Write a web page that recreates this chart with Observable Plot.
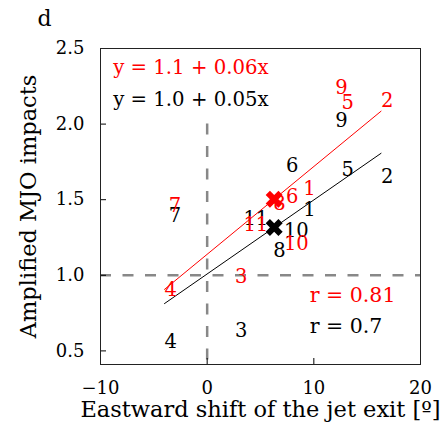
<!DOCTYPE html>
<html>
<head>
<meta charset="utf-8">
<script src="https://cdn.jsdelivr.net/npm/d3@7"></script>
<script src="https://cdn.jsdelivr.net/npm/@observablehq/plot@0.6"></script>
<style>
  body { margin: 0; background: #fff; }
</style>
</head>
<body>
<div id="chart"></div>
<script>
// Ensemble members, labelled by number
const members = ["1", "2", "3", "4", "5", "6", "7", "8", "9", "10", "11"];
// Eastward shift of the jet exit (degrees)
const jetShift = [9.0, 16.3, 2.6, -4.0, 12.6, 7.4, -3.6, 6.2, 12.0, 7.2, 3.4];
// Amplified MJO impacts, two measures
const impactRed = [1.53, 2.11, 0.95, 0.86, 2.10, 1.48, 1.42, 1.43, 2.20, 1.17, 1.29];
const impactBlack = [1.39, 1.61, 0.59, 0.52, 1.66, 1.68, 1.35, 1.12, 1.98, 1.25, 1.33];
const seriesColor = ["#ff0000", "#000000"];

// Axis ticks
const xTicks = [-10, 0, 10, 20];
const yTicks = [0.5, 1.0, 1.5, 2.0, 2.5];
const xDomain = [-10, 20];
const yDomain = [0.41, 2.5];

// Reference lines: zero shift (drawn up to 2.0) and unit impact
const zeroShift = 0;
const zeroShiftTop = 2.0;
const unitImpact = 1.0;

const points = members.map((m, i) => ({
  member: m, x: jetShift[i], red: impactRed[i], black: impactBlack[i]
}));

// Least-squares fit and Pearson correlation of each series against the shift
function fit(xs, ys) {
  const mx = d3.mean(xs), my = d3.mean(ys);
  let sxy = 0, sxx = 0, syy = 0;
  xs.forEach((x, i) => {
    sxy += (x - mx) * (ys[i] - my);
    sxx += (x - mx) ** 2;
    syy += (ys[i] - my) ** 2;
  });
  const slope = sxy / sxx;
  return {mx, my, slope, intercept: my - slope * mx, r: sxy / Math.sqrt(sxx * syy)};
}
const fits = [fit(jetShift, impactRed), fit(jetShift, impactBlack)];

const xExtent = d3.extent(jetShift);
const fitLines = [0, 1].flatMap(s => xExtent.map(x => ({
  series: s, x, y: fits[s].intercept + fits[s].slope * x
})));
const means = fits.map((f, s) => ({x: f.mx, y: f.my, c: seriesColor[s]}));

// Filled "X" marker: a plus sign rotated by 45 degrees
const plusOutline = [[-1,-3],[1,-3],[1,-1],[3,-1],[3,1],[1,1],[1,3],[-1,3],[-1,1],[-3,1],[-3,-1],[-1,-1]];
const filledX = {
  draw(context, size) {
    const r = Math.sqrt(size / Math.PI);
    const k = r / (4 / Math.SQRT2);
    const c = Math.SQRT1_2;
    plusOutline.forEach(([px, py], i) => {
      const rx = (px - py) * c * k, ry = (px + py) * c * k;
      if (i === 0) context.moveTo(rx, ry); else context.lineTo(rx, ry);
    });
    context.closePath();
  }
};

const fmtSlope = d3.format(".2~f");
const fmtR = d3.format(".2~f");
const eqText = s => `y = ${fits[s].intercept.toFixed(1)} + ${fmtSlope(fits[s].slope)}x`;
const rText = s => `r = ${fmtR(fits[s].r)}`;
const fmtX = d3.format("d");
const fmtY = d3.format(".1f");

const chart = Plot.plot({
  width: 447,
  height: 432,
  marginLeft: 100,
  marginRight: 27,
  marginTop: 48,
  marginBottom: 68,
  style: {fontFamily: "DejaVu Serif", fontSize: "18px", background: "#fff", color: "#000"},
  x: {domain: xDomain},
  y: {domain: yDomain},
  marks: [
    Plot.ruleY([unitImpact], {stroke: "#888", strokeWidth: 2.5, strokeDasharray: "11,11.5"}),
    Plot.ruleX([zeroShift], {y1: zeroShiftTop, y2: yDomain[0], stroke: "#888", strokeWidth: 2.5, strokeDasharray: "11,11.5"}),
    Plot.line(fitLines, {x: "x", y: "y", z: "series", stroke: d => seriesColor[d.series], strokeWidth: 1}),
    Plot.dot(means, {x: "x", y: "y", fill: "c", stroke: "none", r: 8.5, symbol: filledX}),
    Plot.text(points, {x: "x", y: "black", text: "member", fill: seriesColor[1], textAnchor: "start", lineAnchor: "bottom", fontSize: 19.5}),
    Plot.text(points, {x: "x", y: "red", text: "member", fill: seriesColor[0], textAnchor: "start", lineAnchor: "bottom", fontSize: 19.5}),
    Plot.axisX(xTicks, {anchor: "bottom", tickSize: -6, tickPadding: 23, tickFormat: fmtX, label: null, fontSize: 18}),
    Plot.axisY(yTicks, {anchor: "left", tickSize: -6, tickPadding: 22, tickFormat: fmtY, label: null, fontSize: 18}),
    Plot.frame({stroke: "#222", strokeWidth: 1}),
    // Fit equations and correlations
    Plot.text([eqText(0)], {frameAnchor: "top-left", dx: 12.7, dy: 25.3, textAnchor: "start", lineAnchor: "bottom", fill: seriesColor[0], fontSize: 19.7}),
    Plot.text([eqText(1)], {frameAnchor: "top-left", dx: 12.7, dy: 57, textAnchor: "start", lineAnchor: "bottom", fill: seriesColor[1], fontSize: 19.7}),
    Plot.text([rText(0)], {frameAnchor: "top-left", dx: 209.3, dy: 253.7, textAnchor: "start", lineAnchor: "bottom", fill: seriesColor[0], fontSize: 20.5}),
    Plot.text([rText(1)], {frameAnchor: "top-left", dx: 209.3, dy: 284.7, textAnchor: "start", lineAnchor: "bottom", fill: seriesColor[1], fontSize: 20.5}),
    // Axis titles and panel letter
    Plot.text(["Eastward shift of the jet exit [º]"], {frameAnchor: "bottom", dy: 52, textAnchor: "middle", fontSize: 22.5, fill: "#000"}),
    Plot.text(["Amplified MJO impacts"], {frameAnchor: "left", dx: -72, rotate: -90, textAnchor: "middle", fontSize: 22.5, fill: "#000"}),
    Plot.text(["d"], {frameAnchor: "top-left", dx: -63, dy: -23, textAnchor: "start", lineAnchor: "bottom", fontSize: 22, fill: "#000"})
  ]
});

document.getElementById("chart").appendChild(chart);
</script>
</body>
</html>
